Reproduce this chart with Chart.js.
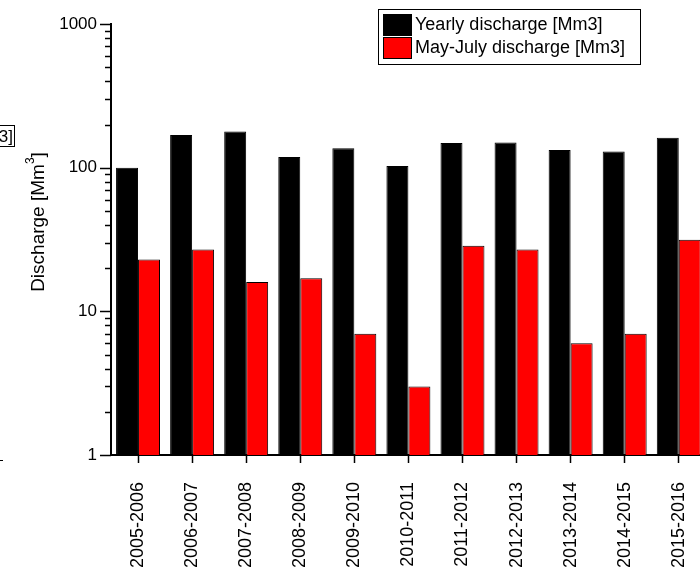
<!DOCTYPE html>
<html>
<head>
<meta charset="utf-8">
<script src="https://cdn.jsdelivr.net/npm/chart.js@4.4.1/dist/chart.umd.min.js"></script>
<style>
  html, body { margin: 0; padding: 0; overflow: hidden; background: #fff; }
  #grafico { position: absolute; left: 0; top: 0; }
</style>
</head>
<body>
<canvas id="grafico" width="720" height="570"></canvas>
<script>
// datos
const periodos = ['2005-2006', '2006-2007', '2007-2008', '2008-2009', '2009-2010', '2010-2011',
                  '2011-2012', '2012-2013', '2013-2014', '2014-2015', '2015-2016'];
const caudalAnual = [100, 169, 179, 119, 137, 103, 149, 150, 133, 130, 162];
const caudalMayoJulio = [23, 27, 16, 17, 7, 3, 28.6, 27, 6, 7, 31.5];

// marcas del eje y (log)
const ticksMayores = [1, 10, 100, 1000];
const ticksMenores = [2, 3, 4, 5, 6, 7, 8, 9, 20, 30, 40, 50, 60, 70, 80, 90, 200, 300, 400, 500, 600, 700, 800, 900];

const fuente = 'Liberation Sans, Arial, sans-serif';

// dibuja marcas del eje y, titulo del eje y leyenda
const extrasEjes = {
    id: 'extrasEjes',
    afterDraw(chart) {
        const ctx = chart.ctx;
        const escalaY = chart.scales.y;
        const izq = chart.chartArea.left;

        ctx.save();
        ctx.strokeStyle = '#000';
        ctx.lineWidth = 1.5;
        ticksMayores.forEach(v => {
            const py = Math.round(escalaY.getPixelForValue(v)) + 0.5;
            ctx.beginPath();
            ctx.moveTo(izq - 11, py);
            ctx.lineTo(izq, py);
            ctx.stroke();
        });
        ticksMenores.forEach(v => {
            const py = Math.round(escalaY.getPixelForValue(v)) + 0.5;
            ctx.beginPath();
            ctx.moveTo(izq - 6, py);
            ctx.lineTo(izq, py);
            ctx.stroke();
        });

        // titulo del eje y con superindice
        ctx.fillStyle = '#000';
        ctx.textBaseline = 'middle';
        ctx.translate(39, 222);
        ctx.rotate(-Math.PI / 2);
        const parte1 = 'Discharge [Mm';
        const parte2 = '3';
        const parte3 = ']';
        ctx.font = '19px ' + fuente;
        const w1 = ctx.measureText(parte1).width;
        const w3 = ctx.measureText(parte3).width;
        ctx.font = '12px ' + fuente;
        const w2 = ctx.measureText(parte2).width;
        let x = -(w1 + w2 + w3) / 2;
        ctx.font = '19px ' + fuente;
        ctx.fillText(parte1, x, 0);
        x += w1;
        ctx.font = '12px ' + fuente;
        ctx.fillText(parte2, x, -8);
        x += w2;
        ctx.font = '19px ' + fuente;
        ctx.fillText(parte3, x, 0);
        ctx.restore();

        // leyenda
        ctx.save();
        ctx.strokeStyle = '#000';
        ctx.lineWidth = 1;
        ctx.fillStyle = '#fff';
        ctx.fillRect(378, 9, 262, 55);
        ctx.strokeRect(378.5, 9.5, 262, 55);
        const filas = [14, 37];
        chart.data.datasets.forEach((ds, i) => {
            ctx.fillStyle = ds.backgroundColor;
            ctx.fillRect(383, filas[i], 29, 22);
            ctx.strokeStyle = '#000';
            ctx.strokeRect(383.5, filas[i] + 0.5, 28, 21);
            ctx.fillStyle = '#000';
            ctx.font = '18px ' + fuente;
            ctx.textBaseline = 'middle';
            ctx.fillText(ds.label, 415, filas[i] + 11);
        });
        ctx.restore();

        // restos del recorte a la izquierda
        ctx.save();
        ctx.strokeStyle = '#000';
        ctx.lineWidth = 1;
        ctx.strokeRect(-20.5, 125.5, 35, 21);
        ctx.fillStyle = '#000';
        ctx.font = '17px ' + fuente;
        ctx.textAlign = 'right';
        ctx.textBaseline = 'middle';
        ctx.fillText('3]', 13, 137);
        ctx.beginPath();
        ctx.moveTo(0, 460.5);
        ctx.lineTo(3, 460.5);
        ctx.stroke();
        ctx.restore();
    }
};

const ctx = document.getElementById('grafico').getContext('2d');
const grafico = new Chart(ctx, {
    type: 'bar',
    data: {
        labels: periodos,
        datasets: [{
            label: 'Yearly discharge [Mm3]',
            data: caudalAnual,
            backgroundColor: '#000000',
            borderColor: '#000000',
            borderWidth: 1
        }, {
            label: 'May-July discharge [Mm3]',
            data: caudalMayoJulio,
            backgroundColor: '#ff0000',
            borderColor: '#000000',
            borderWidth: 1
        }]
    },
    options: {
        responsive: false,
        animation: false,
        devicePixelRatio: 1,
        layout: { padding: { left: 0, right: 14, top: 15, bottom: 0 } },
        datasets: {
            bar: { categoryPercentage: 0.813, barPercentage: 1 }
        },
        plugins: {
            legend: { display: false },
            tooltip: { enabled: false }
        },
        scales: {
            x: {
                grid: {
                    offset: false,
                    drawOnChartArea: false,
                    drawTicks: true,
                    tickLength: 8,
                    tickColor: '#000',
                    tickWidth: 1.5
                },
                border: { color: '#000', width: 2 },
                ticks: {
                    minRotation: 90,
                    maxRotation: 90,
                    autoSkip: false,
                    padding: 19,
                    color: '#000',
                    font: { size: 18, family: fuente }
                },
                afterFit: function (escala) { escala.height = 115; }
            },
            y: {
                type: 'logarithmic',
                min: 1,
                max: 1000,
                grid: { display: true, drawOnChartArea: false, drawTicks: false },
                border: { color: '#000', width: 2 },
                ticks: {
                    autoSkip: false,
                    padding: 14,
                    color: '#000',
                    font: { size: 17, family: fuente },
                    callback: function (v) {
                        return ticksMayores.includes(v) ? String(v) : '';
                    }
                },
                afterFit: function (escala) { escala.width = 111; }
            }
        }
    },
    plugins: [extrasEjes]
});
</script>
</body>
</html>
